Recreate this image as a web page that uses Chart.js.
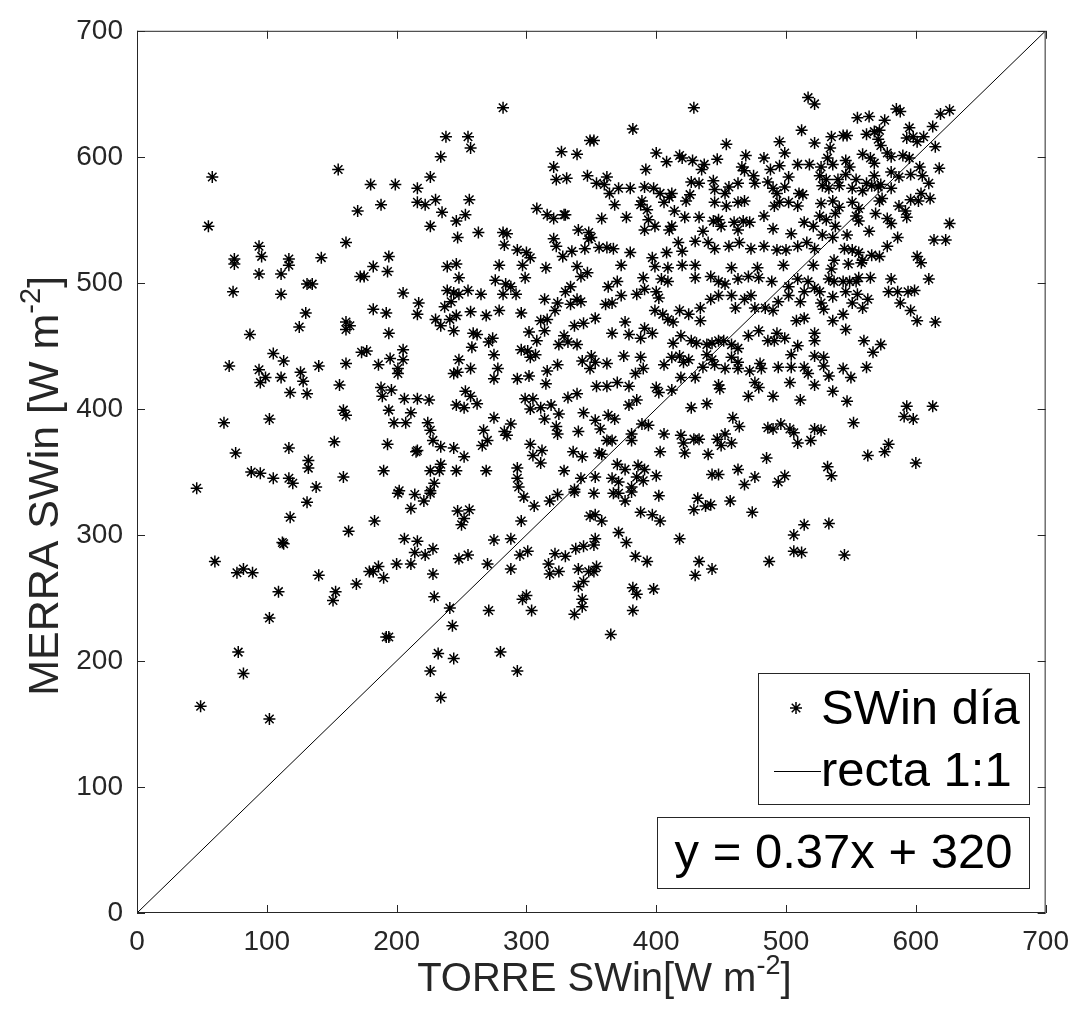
<!DOCTYPE html>
<html><head><meta charset="utf-8">
<script src="https://cdn.jsdelivr.net/npm/chart.js@4.4.1/dist/chart.umd.min.js"></script>
<style>html,body{margin:0;padding:0;background:#fff}</style>
</head><body>
<canvas id="c" width="1081" height="1028"></canvas>
<script>
// ---- DATA: [TORRE SWin, MERRA SWin] pairs, grouped by region ----
const ptsLowLeftTop = [[58,584],[55,545],[155,590],[170,557],[161,532],[94,529],[96,521],[75,519],[117,519],[142,520]];
const ptsMidLeftTop = [[282,639],[238,616],[255,616],[257,607],[234,600],[226,584],[180,578],[199,578],[216,575],[188,562],[216,564],[222,562],[230,566],[235,556],[256,566],[226,545],[246,549],[253,554],[247,536],[263,540],[282,540],[285,539],[283,530],[293,526],[300,524],[303,520],[194,521],[308,559],[316,554],[321,551],[329,554],[330,554],[321,592],[327,604],[339,602],[323,582],[331,583],[347,585],[349,613],[340,542],[348,540],[348,535],[321,535],[323,529],[335,525],[345,527],[328,521]];
const ptsMidRightTop = [[429,639],[382,622],[517,647],[522,642],[512,621],[522,611],[352,613],[454,610],[495,612],[499,603],[400,603],[408,596],[418,601],[420,599],[428,597],[437,594],[435,590],[447,598],[469,601],[483,599],[392,590],[466,592],[468,589],[509,594],[518,594],[488,590],[495,593],[362,584],[354,579],[360,578],[371,575],[380,575],[364,571],[368,562],[391,576],[398,575],[403,571],[412,571],[410,568],[427,580],[433,579],[444,581],[445,574],[453,571],[456,576],[463,579],[475,585],[476,579],[486,580],[490,575],[493,571],[502,584],[499,576],[510,571],[513,570],[389,565],[388,562],[393,558],[406,564],[414,557],[423,565],[426,570],[422,552],[433,552],[445,564],[454,561],[463,564],[468,565],[483,553],[491,561],[495,564],[502,564],[509,561],[358,551],[377,552],[391,542],[394,550],[399,545],[412,545],[410,542],[444,549],[448,550],[450,545],[460,548],[467,549],[472,548],[490,543],[504,539],[514,548],[521,545],[350,536],[356,528],[362,528],[367,527],[380,524],[397,520],[408,524],[417,532],[420,525],[430,533],[436,541],[440,532],[445,527],[456,529],[463,542],[464,532],[473,527],[483,529],[493,526],[500,526],[509,529],[516,532],[522,527]];
const ptsHighTop = [[555,631],[564,632],[576,629],[585,638],[588,636],[619,634],[626,637],[613,624],[595,623],[535,616],[544,617],[547,617],[534,607],[562,618],[568,620],[572,621],[571,614],[573,609],[593,615],[598,616],[601,612],[606,616],[615,608],[532,599],[527,592],[536,594],[546,597],[549,592],[559,602],[565,599],[568,595],[578,603],[581,600],[590,601],[595,599],[603,592],[618,591],[526,585],[531,582],[540,582],[546,586],[554,582],[562,579],[568,585],[573,578],[581,588],[587,584],[596,586],[605,585],[610,579],[528,577],[533,575],[541,577],[551,575],[559,573],[566,577],[571,576],[581,575],[527,563],[536,565],[541,560],[551,564],[556,559],[572,565],[574,567],[587,561],[592,557],[593,552],[596,566],[602,565],[604,571],[611,567],[526,553],[531,550],[538,555],[538,545],[554,553],[556,549],[569,555],[578,551],[581,547],[626,547],[586,536],[614,534],[623,534],[528,538],[536,536],[547,538],[564,541],[545,527],[551,526],[556,524],[566,522],[572,521],[578,529],[601,521],[537,518],[559,518]];
const ptsLowLeftMid = [[75,515],[94,507],[111,507],[117,514],[74,493],[111,491],[131,499],[135,499],[172,505],[130,476],[125,465],[87,459],[161,469],[164,466],[161,463],[105,444],[113,438],[71,434],[94,431],[99,425],[95,421],[111,425],[126,429],[128,422],[140,434],[161,436],[173,445],[118,413],[131,412],[156,419],[159,399],[161,395],[67,389],[102,392],[152,374],[76,365],[117,369],[132,359],[132,353],[88,350],[95,349],[105,345],[117,345],[120,341],[138,338],[159,346],[46,337]];
const ptsMidLeftMid = [[182,513],[193,509],[175,505],[205,492],[217,484],[216,475],[182,479],[192,476],[194,460],[177,446],[186,435],[195,440],[205,447],[205,439],[201,432],[201,428],[188,417],[189,410],[196,415],[206,408],[216,408],[225,407],[194,399],[211,397],[198,389],[207,389],[224,389],[226,383],[228,375],[193,372],[215,366],[216,367],[190,351],[226,351],[234,356],[233,351],[246,351],[202,335],[229,341],[234,370],[244,369],[252,362],[246,403],[252,401],[253,414],[257,410],[262,404],[248,439],[244,428],[247,429],[257,432],[230,471],[234,466],[241,471],[246,474],[244,462],[237,481],[242,485],[248,491],[239,494],[244,492],[255,494],[265,491],[257,477],[269,474],[279,478],[279,514],[239,513],[246,515],[248,504],[276,502],[284,499],[288,497],[282,491],[292,491],[299,504],[315,512],[339,513],[347,508],[342,505],[314,487],[324,484],[330,493],[334,497],[339,487],[342,485],[334,483],[322,478],[311,470],[316,471],[314,462],[308,454],[302,461],[296,447],[301,446],[303,441],[307,443],[325,451],[329,458],[337,466],[339,451],[344,468],[332,453],[343,438],[349,432],[324,435],[316,430],[315,420],[302,426],[293,424],[297,514],[296,476],[274,456],[271,453],[275,443],[259,460],[262,459],[258,449],[278,432],[275,424],[299,408],[305,408],[303,400],[314,392],[311,401],[319,403],[325,396],[332,409],[339,412],[344,397],[323,386],[324,380],[340,382],[303,372],[312,367],[305,363],[311,357],[336,366],[343,362],[329,351],[342,345],[337,336],[293,353],[293,345],[294,338],[267,383],[270,375],[266,371],[283,382],[285,379],[288,388],[275,393],[269,351],[226,335]];
const ptsMidRightMid = [[373,514],[399,513],[409,512],[420,514],[430,514],[458,512],[478,512],[498,514],[521,514],[363,497],[370,501],[390,504],[404,503],[409,501],[430,504],[442,505],[448,501],[453,499],[463,503],[471,505],[479,504],[489,501],[502,497],[509,503],[517,501],[522,496],[353,472],[366,484],[361,483],[373,490],[385,491],[391,495],[402,488],[400,493],[399,478],[405,475],[409,471],[413,469],[418,478],[425,475],[434,480],[434,470],[442,487],[448,490],[458,490],[461,480],[468,487],[473,490],[476,480],[484,480],[490,478],[494,485],[502,490],[511,485],[514,493],[508,470],[514,472],[366,460],[376,469],[379,459],[388,456],[391,464],[397,460],[413,452],[419,458],[427,454],[431,452],[439,451],[443,452],[448,454],[452,454],[458,451],[463,448],[471,458],[479,462],[486,454],[491,454],[493,460],[499,456],[509,450],[522,460],[522,454],[350,442],[353,437],[362,436],[375,442],[388,441],[390,432],[384,428],[406,435],[412,441],[418,442],[421,437],[425,439],[436,433],[439,443],[443,439],[445,435],[453,432],[458,441],[463,437],[463,432],[472,430],[480,436],[481,432],[494,433],[504,433],[504,443],[514,433],[517,428],[522,442],[354,418],[362,418],[370,421],[379,418],[400,417],[402,413],[412,415],[419,425],[430,425],[448,419],[449,416],[476,421],[479,417],[490,410],[503,421],[511,407],[471,410],[439,404],[427,401],[379,403],[385,407],[522,419],[353,391],[363,395],[368,392],[357,384],[362,375],[366,375],[358,364],[356,365],[370,356],[376,352],[386,355],[391,352],[400,347],[353,346],[366,345],[371,342],[381,338],[385,346],[390,343],[389,388],[394,387],[381,380],[381,375],[406,380],[403,366],[419,379],[421,373],[422,365],[429,376],[433,376],[440,364],[443,348],[448,348],[447,376],[450,371],[453,380],[458,373],[459,393],[464,386],[463,352],[468,340],[476,346],[485,361],[486,385],[490,384],[496,388],[503,384],[506,381],[509,373],[519,375],[522,384],[499,347],[494,342]];
const ptsHighMid = [[535,511],[548,515],[558,516],[604,516],[610,503],[565,504],[556,504],[581,503],[533,503],[537,501],[544,501],[549,501],[554,501],[526,493],[546,493],[555,491],[563,487],[579,493],[586,493],[594,493],[599,494],[536,489],[527,484],[529,479],[551,484],[559,480],[588,484],[596,478],[601,470],[615,469],[536,470],[544,475],[546,463],[560,454],[567,445],[573,451],[529,441],[529,434],[533,426],[544,432],[550,425],[562,433],[536,414],[547,406],[552,389],[527,383],[593,402],[591,394],[598,392],[613,402],[579,372],[576,366],[563,363],[600,357],[532,354],[535,347]];
const ptsLowLeftBottom = [[131,326],[118,314],[163,303],[112,294],[113,293],[60,279],[77,270],[82,273],[89,270],[140,268],[169,261],[153,255],[151,248],[109,255],[102,234],[78,207],[82,190],[49,164],[102,154]];
const ptsMidLeftBottom = [[201,333],[214,332],[221,327],[226,333],[211,321],[183,311],[247,319],[256,320],[252,313],[250,308],[296,311],[298,330],[306,323],[318,327],[324,332],[337,334],[206,297],[216,295],[214,286],[222,284],[228,289],[200,277],[211,277],[179,271],[182,271],[186,275],[190,266],[228,269],[248,281],[255,284],[270,277],[275,296],[288,297],[288,273],[295,284],[301,287],[229,251],[241,242],[243,228],[192,219],[194,219],[232,206],[244,202],[226,192],[234,171],[271,240],[297,249],[300,252],[304,240],[280,207],[293,192],[322,285],[330,283],[338,289],[344,291],[349,315],[317,277],[318,269],[325,271],[340,273],[348,271],[344,263],[340,259],[343,249],[343,243],[337,237]];
const ptsMidRightBottom = [[352,333],[367,333],[371,333],[376,327],[381,334],[402,331],[353,316],[358,311],[388,318],[397,316],[403,311],[432,329],[429,320],[438,323],[442,324],[457,327],[474,318],[514,308],[506,300],[506,287],[512,286],[371,302],[377,294],[353,297],[352,292],[354,275],[352,271],[384,283],[393,279],[382,258],[385,253],[398,257],[382,240],[365,221],[418,297],[433,279],[430,268],[443,273],[487,279]];
const ptsHighBottom = [[533,309],[545,284]];

const identityLine = [0, 700];           // recta 1:1 end values
const xTicks = [0,100,200,300,400,500,600,700];
const yTicks = [0,100,200,300,400,500,600,700];
const seriesLabels = ['SWin día', 'recta 1:1'];
const fitText = 'y = 0.37x + 320';
const xTitle = ['TORRE SWin[W m', '-2', ']'];
const yTitle = ['MERRA SWin [W m', '-2', ']'];

const allPts = [].concat(ptsLowLeftTop, ptsMidLeftTop, ptsMidRightTop, ptsHighTop,
  ptsLowLeftMid, ptsMidLeftMid, ptsMidRightMid, ptsHighMid,
  ptsLowLeftBottom, ptsMidLeftBottom, ptsMidRightBottom, ptsHighBottom);

const FONT = 'Arial, "Liberation Sans", Helvetica, sans-serif';
const AX = '#262626';

function drawSup(ctx, parts, size, x, y) {
  ctx.font = size + 'px ' + FONT;
  const w1 = ctx.measureText(parts[0]).width;
  const w3 = ctx.measureText(parts[2]).width;
  const ss = Math.round(size * 0.68);
  ctx.font = ss + 'px ' + FONT;
  const w2 = ctx.measureText(parts[1]).width;
  let sx = x - (w1 + w2 + w3) / 2;
  ctx.textAlign = 'left'; ctx.textBaseline = 'alphabetic';
  ctx.font = size + 'px ' + FONT; ctx.fillText(parts[0], sx, y);
  ctx.font = ss + 'px ' + FONT; ctx.fillText(parts[1], sx + w1, y - size * 0.42);
  ctx.font = size + 'px ' + FONT; ctx.fillText(parts[2], sx + w1 + w2, y);
}

const matlabAxes = {
  id: 'matlabAxes',
  afterDraw(chart) {
    const { ctx, chartArea: a, scales: { x: xs, y: ys } } = chart;
    ctx.save();
    ctx.strokeStyle = AX; ctx.lineWidth = 1;
    ctx.strokeRect(a.left + 0.5, a.top + 0.5, a.right - a.left - 1, a.bottom - a.top - 1);
    const tl = 8;
    ctx.beginPath();
    xTicks.forEach(v => {
      const p = Math.round(xs.getPixelForValue(v)) + 0.5;
      ctx.moveTo(p, a.bottom); ctx.lineTo(p, a.bottom - tl);
      ctx.moveTo(p, a.top); ctx.lineTo(p, a.top + tl);
    });
    yTicks.forEach(v => {
      const p = Math.round(ys.getPixelForValue(v)) + 0.5;
      ctx.moveTo(a.left, p); ctx.lineTo(a.left + tl, p);
      ctx.moveTo(a.right, p); ctx.lineTo(a.right - tl, p);
    });
    ctx.stroke();

    // axis titles
    ctx.fillStyle = AX;
    drawSup(ctx, xTitle, 40, (a.left + a.right) / 2 + 13, 991);
    ctx.save();
    ctx.translate(58, (a.top + a.bottom) / 2 + 14);
    ctx.rotate(-Math.PI / 2);
    drawSup(ctx, yTitle, 43, 0, 0);
    ctx.restore();

    // legend box
    const lx = 758.5, ly = 673.5, lw = 271, lh = 131;
    ctx.fillStyle = '#fff'; ctx.fillRect(lx, ly, lw, lh);
    ctx.strokeStyle = AX; ctx.strokeRect(lx, ly, lw, lh);
    ctx.strokeStyle = '#000'; ctx.fillStyle = '#000'; ctx.lineWidth = 1.5;
    Chart.helpers.drawPoint(ctx, { pointStyle: 'star', radius: 6, rotation: 0, borderWidth: 1.5 }, 796, 708);
    ctx.lineWidth = 1;
    ctx.beginPath(); ctx.moveTo(774, 771.5); ctx.lineTo(821, 771.5); ctx.stroke();
    ctx.font = '49px ' + FONT; ctx.textAlign = 'left'; ctx.textBaseline = 'middle';
    ctx.fillText(seriesLabels[0], 821, 710);
    ctx.fillText(seriesLabels[1], 821, 772);

    // fit box
    const fx = 657.5, fy = 817.5, fw = 372, fh = 71;
    ctx.fillStyle = '#fff'; ctx.fillRect(fx, fy, fw, fh);
    ctx.strokeStyle = AX; ctx.strokeRect(fx, fy, fw, fh);
    ctx.fillStyle = '#000'; ctx.textAlign = 'center';
    ctx.fillText(fitText, fx + fw / 2, fy + fh / 2 + 1);
    ctx.restore();
  }
};

new Chart(document.getElementById('c').getContext('2d'), {
  type: 'scatter',
  data: {
    datasets: [
      { label: seriesLabels[0], data: allPts.map(p => ({ x: p[0], y: p[1] })),
        pointStyle: 'star', pointRadius: 6, borderColor: '#000', backgroundColor: '#000', borderWidth: 1.5 },
      { label: seriesLabels[1], data: identityLine.map(v => ({ x: v, y: v })), showLine: true,
        borderColor: '#000', borderWidth: 1, pointRadius: 0 }
    ]
  },
  options: {
    responsive: false, animation: false, devicePixelRatio: 1,
    layout: { padding: { left: 0, top: 26, right: 33, bottom: 0 } },
    plugins: { legend: { display: false }, tooltip: { enabled: false } },
    scales: {
      x: { type: 'linear', min: 0, max: 700,
        afterBuildTicks: s => { s.ticks = xTicks.map(v => ({ value: v })); },
        grid: { display: false, drawTicks: false }, border: { display: false },
        ticks: { font: { family: FONT, size: 28 }, color: AX, padding: 12, maxRotation: 0, autoSkip: false },
        afterFit: s => { s.height = 115; } },
      y: { type: 'linear', min: 0, max: 700,
        afterBuildTicks: s => { s.ticks = yTicks.map(v => ({ value: v })); },
        grid: { display: false, drawTicks: false }, border: { display: false },
        ticks: { font: { family: FONT, size: 28 }, color: AX, padding: 14, autoSkip: false },
        afterFit: s => { s.width = 137; } }
    }
  },
  plugins: [matlabAxes]
});
</script>
</body></html>
